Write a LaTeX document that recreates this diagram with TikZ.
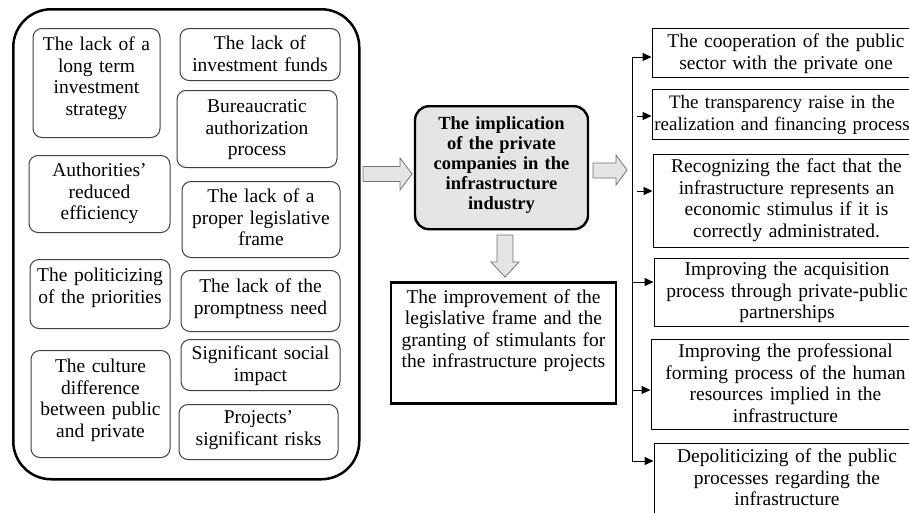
\documentclass[tikz,border=0pt]{standalone}
\usepackage{fontspec}
\setmainfont{Liberation Serif}
\usetikzlibrary{arrows.meta}
\begin{document}
\begin{tikzpicture}[x=1pt,y=-1pt,
  txt/.style={font=\fontsize{19.5}{21.5}\selectfont, align=center, inner sep=0pt, anchor=north},
  sz/.style n args={3}{text width=#1pt, text height=#2pt, text depth=#3pt},
  rbox/.style={txt, draw=black!75, line width=1pt, rounded corners=9pt},
  sbox/.style={txt, draw=black, line width=1pt},
  group/.style={draw=black, line width=2.5pt, rounded corners=38pt, inner sep=0pt, anchor=north west},
  core/.style={txt, draw=black, fill=black!10, line width=2.4pt, rounded corners=14pt,
    font=\bfseries\fontsize{18.5}{20}\selectfont},
  result/.style={txt, draw=black, line width=2.6pt},
  blk/.style={fill=black!10, draw=black!55, line width=0.8pt, line join=miter},
  tip/.style={draw=black, line width=1pt, -{Triangle[length=9pt,width=8pt]}},
  trunk/.style={draw=black, line width=0.9pt}
]
\useasboundingbox (0,0) rectangle (909,512);
\clip (0,0) rectangle (909,512);

% container of causes
\node[group, minimum width=346pt, minimum height=470pt] (grp) at (12,8) {};

% left column
\node[rbox, sz={127}{22}{87}] (c1) at (96.5,28) {The lack of a\\long term\\investment\\strategy};
\node[rbox, sz={141}{21}{56}] (c2) at (99.5,155) {Authorities'\\reduced\\efficiency};
\node[rbox, sz={140}{22}{47}] (c3) at (100,259) {The politicizing\\of the priorities};
\node[rbox, sz={139}{22}{85}] (c4) at (100.5,350) {The culture\\difference\\between public\\and private};

% right column
\node[rbox, sz={160}{21}{31}] (c5) at (260,28) {The lack of\\investment funds};
\node[rbox, sz={160}{22}{55}] (c6) at (257,90) {Bureaucratic\\authorization\\process};
\node[rbox, sz={158}{21}{55}] (c7) at (261,181) {The lack of a\\proper legislative\\frame};
\node[rbox, sz={159}{22}{39}] (c8) at (260.5,270) {The lack of the\\promptness need};
\node[rbox, sz={159}{20}{31}] (c9) at (260.5,339) {Significant social\\impact};
\node[rbox, sz={159}{19}{36}] (c10) at (258.5,404) {Projects'\\significant risks};

% centre
\node[core, sz={173}{23}{100}] (core) at (501.5,105) {The implication\\of the private\\companies in the\\infrastructure\\industry};
\node[result, sz={225}{21}{100}] (impr) at (503.5,281) {The improvement of the\\legislative frame and the\\granting of stimulants for\\the infrastructure projects};

% block arrows
\draw[blk] (363,166.5) -- (400,166.5) -- (400,158) -- (412,174) -- (400,190) -- (400,181.5) -- (363,181.5) -- cycle;
\draw[blk] (593,163) -- (616,163) -- (616,155) -- (627,170) -- (616,185) -- (616,178) -- (593,178) -- cycle;
\draw[blk] (497,235) -- (513,235) -- (513,262) -- (519,262) -- (505,277) -- (491,262) -- (497,262) -- cycle;

% effects
\node[sbox, sz={268}{19}{30}] (e1) at (786,28) {The cooperation of the public\\sector with the private one};
\node[sbox, sz={260}{19}{31}, font=\fontsize{19}{21.5}\selectfont] (e2) at (782,89) {The transparency raise in the\\realization and financing process};
\node[sbox, sz={267}{18}{75}] (e3) at (786.5,154) {Recognizing the fact that the\\infrastructure represents an\\economic stimulus if it is\\correctly administrated.};
\node[sbox, sz={266}{17}{51}] (e4) at (787,258) {Improving the acquisition\\process through private-public\\partnerships};
\node[sbox, sz={269}{18}{72}] (e5) at (785.5,339) {Improving the professional\\forming process of the human\\resources implied in the\\infrastructure};
\node[sbox, sz={266}{19}{71}] (e6) at (787,443) {Depoliticizing of the public\\processes regarding the\\infrastructure};

% connectors
\coordinate (tT) at (632,57);
\coordinate (tB) at (632,461);
\coordinate (s2) at (637,116);
\coordinate (s3) at (637,191);
\draw[trunk] (tT) -- (tB);
\draw[tip] (tT) -- (e1.west |- tT);
\draw[tip] (s2) -- (e2.west |- s2);
\draw[tip] (s3) -- (e3.west |- s3);
\draw[tip] (632,282) -- (e4.west |- 0,282);
\draw[tip] (632,390) -- (e5.west |- 0,390);
\draw[tip] (tB) -- (e6.west |- tB);
\end{tikzpicture}
\end{document}
